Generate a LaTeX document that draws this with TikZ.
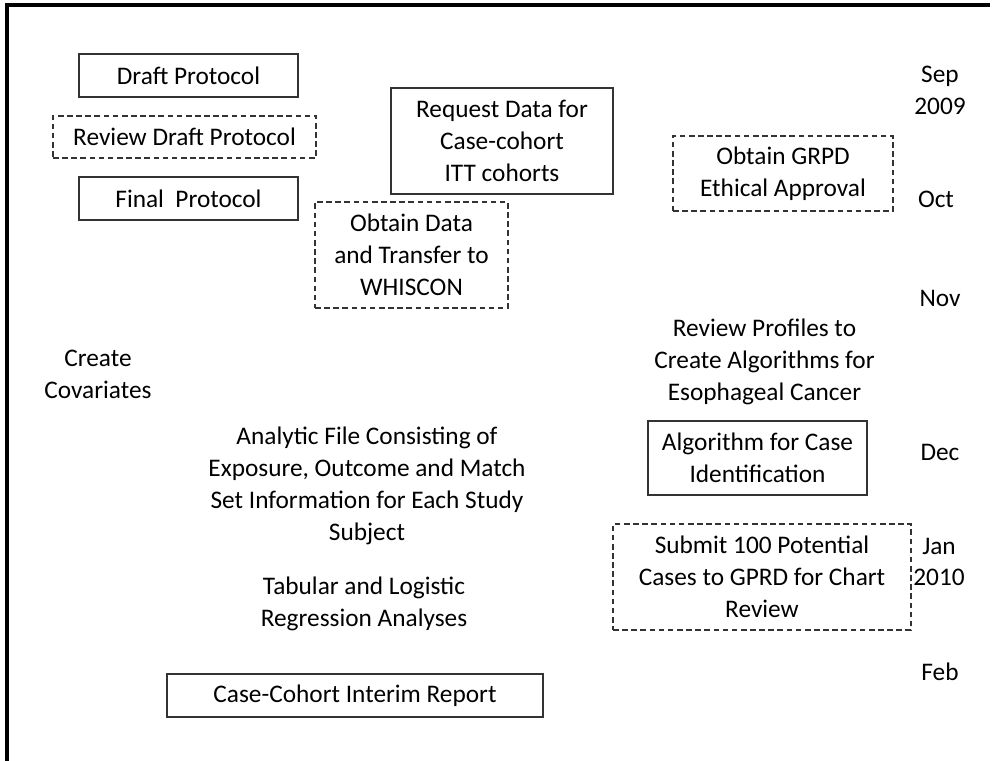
\documentclass[tikz,border=0pt]{standalone}
\usepackage{fontspec}
\setmainfont{Carlito}
\usetikzlibrary{positioning}
\tikzset{
    solidbox/.style = {rectangle, draw=black!80, line width=0.9pt, align=center, inner sep=0pt},
    dashbox/.style = {rectangle, draw=black!80, line width=0.9pt, dash pattern=on 4pt off 2.5pt, align=center, inner sep=0pt},
    plaintext/.style = {align=center, inner sep=0pt},
    month/.style = {align=center, inner sep=0pt},
    frameline/.style = {line width=2.4pt, black}
}

\begin{document}
\begin{tikzpicture}[x=0.025cm, y=-0.025cm,
	font=\fontsize{18}{22.6}\selectfont]
  \useasboundingbox (0,0) rectangle (995,761);
  % frame (top and left only)
  \coordinate (fbl) at (7,761);
  \coordinate (ftl) at (7,5);
  \coordinate (ftr) at (990,5);
  \draw[frameline] (fbl) -- (ftl) -- (ftr);

  % protocol
  \node[solidbox, minimum width=5.475cm, minimum height=1.075cm] (draft) at (188.5,75.5) {Draft Protocol};
  \node[dashbox, minimum width=6.575cm, minimum height=1.05cm] (review) at (184.5,137) {Review Draft Protocol};
  \node[solidbox, minimum width=5.475cm, minimum height=1.075cm] (final) at (188.5,198.5) {Final\ \ Protocol};

  % data
  \node[solidbox, minimum width=5.55cm, minimum height=2.65cm] (request) at (502,141) {Request Data for\\Case-cohort\\ITT cohorts};
  \node[dashbox, minimum width=4.825cm, minimum height=2.65cm] (obtain) at (411.5,255) {Obtain Data\\and Transfer to\\WHISCON};
  \node[dashbox, minimum width=5.5cm, minimum height=1.875cm] (ethics) at (783,173.5) {Obtain GRPD\\Ethical Approval};

  \node[plaintext] (covar) at (98,374) {Create\\Covariates};
  \node[plaintext] (profiles) at (764.5,362) {Review Profiles to\\Create Algorithms for\\Esophageal Cancer};
  \node[solidbox, minimum width=5.475cm, minimum height=1.85cm] (algo) at (757.5,458) {Algorithm for Case\\Identification};
  \node[dashbox, minimum width=7.45cm, minimum height=2.65cm] (submit) at (762,577) {Submit 100 Potential\\Cases to GPRD for Chart\\Review};

  % analysis
  \node[plaintext] (analytic) at (367,486) {Analytic File Consisting of\\Exposure, Outcome and Match\\Set Information for Each Study\\Subject};
  \node[plaintext] (tabular) at (364,604) {Tabular and Logistic\\Regression Analyses};
  \node[solidbox, minimum width=9.4cm, minimum height=1.075cm] (report) at (355,695.5) {Case-Cohort Interim Report};

  % months
  \node[month] (sep) at (940,90) {Sep\\2009};
  \node[month] (oct) at (936,199) {Oct};
  \node[month] (nov) at (940,298) {Nov};
  \node[month] (dec) at (940,452) {Dec};
  \node[month] (jan) at (939,562) {Jan\\2010};
  \node[month] (feb) at (940,672) {Feb};
\end{tikzpicture}
\end{document}
